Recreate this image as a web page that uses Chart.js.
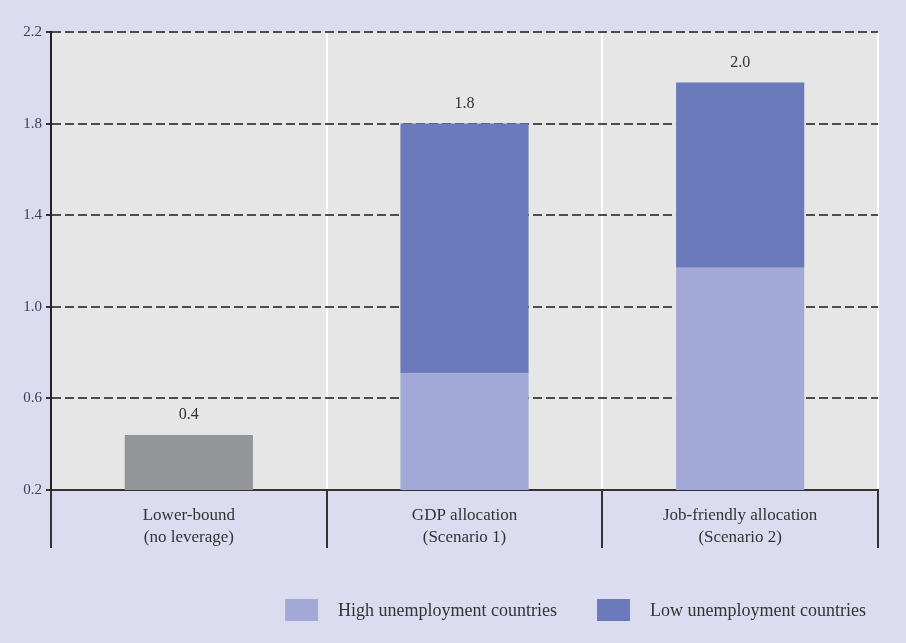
<!DOCTYPE html>
<html>
<head>
<meta charset="utf-8">
<script src="https://cdn.jsdelivr.net/npm/chart.js@4/dist/chart.umd.min.js"></script>
<style>
  html, body { margin: 0; padding: 0; background: #dcdcf0; }
  #wrap { width: 906px; height: 643px; }
</style>
</head>
<body>
<div id="wrap"><canvas id="chart" width="906" height="643"></canvas></div>
<script>
// Categories and stacked values
const categories = [['Lower-bound', '(no leverage)'], ['GDP allocation', '(Scenario 1)'], ['Job-friendly allocation', '(Scenario 2)']];
const lowerBound = [0.44, null, null];
const highUnemployment = [null, 0.71, 1.17];
const lowUnemployment = [null, 1.09, 0.81];
const yTicks = [0.2, 0.6, 1.0, 1.4, 1.8, 2.2];

const serif = '"Liberation Serif", "DejaVu Serif", serif';

// grey fill behind the plotting area
const plotBg = {
  id: 'plotBg',
  beforeDraw(chart) {
    const { ctx, chartArea: a } = chart;
    ctx.save();
    ctx.fillStyle = '#e6e6e6';
    ctx.fillRect(a.left, a.top, a.right - a.left, a.bottom - a.top);
    ctx.restore();
  }
};

// stack totals above each bar
const totals = {
  id: 'totals',
  afterDatasetsDraw(chart) {
    const { ctx, scales: { x, y } } = chart;
    ctx.save();
    ctx.font = '16px ' + serif;
    ctx.fillStyle = '#333';
    ctx.textAlign = 'center';
    ctx.textBaseline = 'bottom';
    categories.forEach((c, i) => {
      const total = (lowerBound[i] || 0) + (highUnemployment[i] || 0) + (lowUnemployment[i] || 0);
      ctx.fillText(total.toFixed(1), x.getPixelForValue(i), y.getPixelForValue(total) - 12);
    });
    ctx.restore();
  }
};

// legend row at the bottom right, skipping the grey series
const bottomLegend = {
  id: 'bottomLegend',
  afterDraw(chart) {
    const { ctx } = chart;
    const sets = chart.data.datasets.slice(1);
    const boxW = 33, boxH = 22, gap = 20, itemGap = 40, right = 866, cy = 610;
    ctx.save();
    ctx.font = '18px ' + serif;
    ctx.textBaseline = 'middle';
    const widths = sets.map(d => boxW + gap + ctx.measureText(d.label).width);
    let x = right - widths.reduce((a, b) => a + b, 0) - itemGap * (sets.length - 1);
    sets.forEach((d, i) => {
      ctx.fillStyle = d.backgroundColor;
      ctx.fillRect(x, cy - boxH / 2, boxW, boxH);
      ctx.fillStyle = '#333';
      ctx.fillText(d.label, x + boxW + gap, cy + 1);
      x += widths[i] + itemGap;
    });
    ctx.restore();
  }
};

new Chart(document.getElementById('chart'), {
  type: 'bar',
  data: {
    labels: categories,
    datasets: [
      { label: 'Lower-bound', data: lowerBound, backgroundColor: '#939598' },
      { label: 'High unemployment countries', data: highUnemployment, backgroundColor: '#a3a9d7' },
      { label: 'Low unemployment countries', data: lowUnemployment, backgroundColor: '#6b7abb' }
    ]
  },
  options: {
    responsive: false,
    animation: false,
    layout: { padding: { left: 0, right: 28, top: 32, bottom: 54 } },
    datasets: { bar: { categoryPercentage: 1, barPercentage: 0.465 } },
    plugins: {
      tooltip: { enabled: false },
      legend: { display: false }
    },
    scales: {
      x: {
        stacked: true,
        afterFit: s => { s.height = 99; },
        grid: { offset: true, color: '#ffffff', lineWidth: 2, tickColor: '#333', tickLength: 58 },
        border: { color: '#333', width: 2 },
        ticks: { padding: -44, color: '#333', font: { family: serif, size: 17, lineHeight: 1.3 } }
      },
      y: {
        stacked: true,
        min: 0.2,
        max: 2.2,
        afterFit: s => { s.width = 51; },
        afterBuildTicks: s => { s.ticks = yTicks.map(v => ({ value: v })); },
        grid: { color: '#4d4d4d', lineWidth: 2, tickLength: 5, tickColor: '#333' },
        border: { color: '#222', width: 2, dash: [9, 4] },
        ticks: { padding: 4, color: '#3d3d5c', font: { family: serif, size: 15 }, callback: v => v.toFixed(1) }
      }
    }
  },
  plugins: [plotBg, totals, bottomLegend]
});
</script>
</body>
</html>
